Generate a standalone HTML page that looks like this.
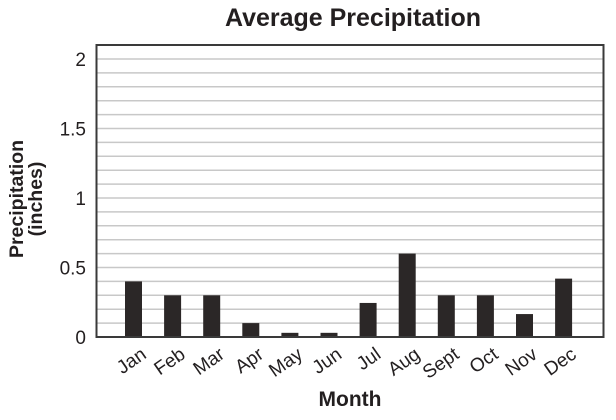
<!DOCTYPE html>
<html><head><meta charset="utf-8"><style>
body{margin:0;background:#fff;width:616px;height:415px;overflow:hidden;font-family:"Liberation Sans",Arial,sans-serif}
</style></head><body>
<svg id="chart" width="616" height="415">
<text x="353" y="26" text-anchor="middle" font-size="25" font-weight="bold" fill="#231f20">Average Precipitation</text>
<g id="grid"></g><g id="bars"></g><g id="yticks"></g><g id="xticks"></g>
<rect x="96.5" y="45" width="507" height="292" fill="none" stroke="#3a3a3a" stroke-width="2"/>
<text transform="translate(23,199) rotate(-90)" text-anchor="middle" font-size="19.5" font-weight="bold" fill="#231f20"><tspan x="0" dy="0">Precipitation</tspan><tspan x="0" dy="19">(inches)</tspan></text>
<text x="350" y="406" text-anchor="middle" font-size="21" font-weight="bold" fill="#231f20">Month</text>
</svg>
<script>
const months=["Jan","Feb","Mar","Apr","May","Jun","Jul","Aug","Sept","Oct","Nov","Dec"];
const values=[0.4,0.3,0.3,0.1,0.03,0.03,0.245,0.6,0.3,0.3,0.165,0.42];
const yTickLabels=["0","0.5","1","1.5","2"];
const yTickValues=[0,0.5,1,1.5,2];
const NS="http://www.w3.org/2000/svg";
const y0=337,pxPer=139,x0=133.5,step=39.1,bw=17;
const ys=v=>y0-v*pxPer, xs=i=>x0+i*step;
function mk(t,a,p){const e=document.createElementNS(NS,t);for(const k in a)e.setAttribute(k,a[k]);document.getElementById(p).appendChild(e);return e;}
for(let k=1;k<=20;k++){const g=mk("line",{x1:97,x2:603,y1:ys(k*0.1),y2:ys(k*0.1),stroke:"#c8c8c8","stroke-width":1.5},"grid");

}
values.forEach((v,i)=>{const r=mk("rect",{x:xs(i)-bw/2,y:ys(v),width:bw,height:v*pxPer,fill:"#2b2727"},"bars");


const t=mk("text",{x:0,y:0,"font-size":19,fill:"#231f20","text-anchor":"end",transform:`translate(${xs(i)+14},${y0+20}) rotate(-35)`},"xticks");t.textContent=months[i];

});
yTickValues.forEach((v,i)=>{const t=mk("text",{x:86,y:ys(v)+7,"font-size":19,fill:"#231f20","text-anchor":"end"},"yticks");t.textContent=yTickLabels[i];

});
</script>
</body></html>
